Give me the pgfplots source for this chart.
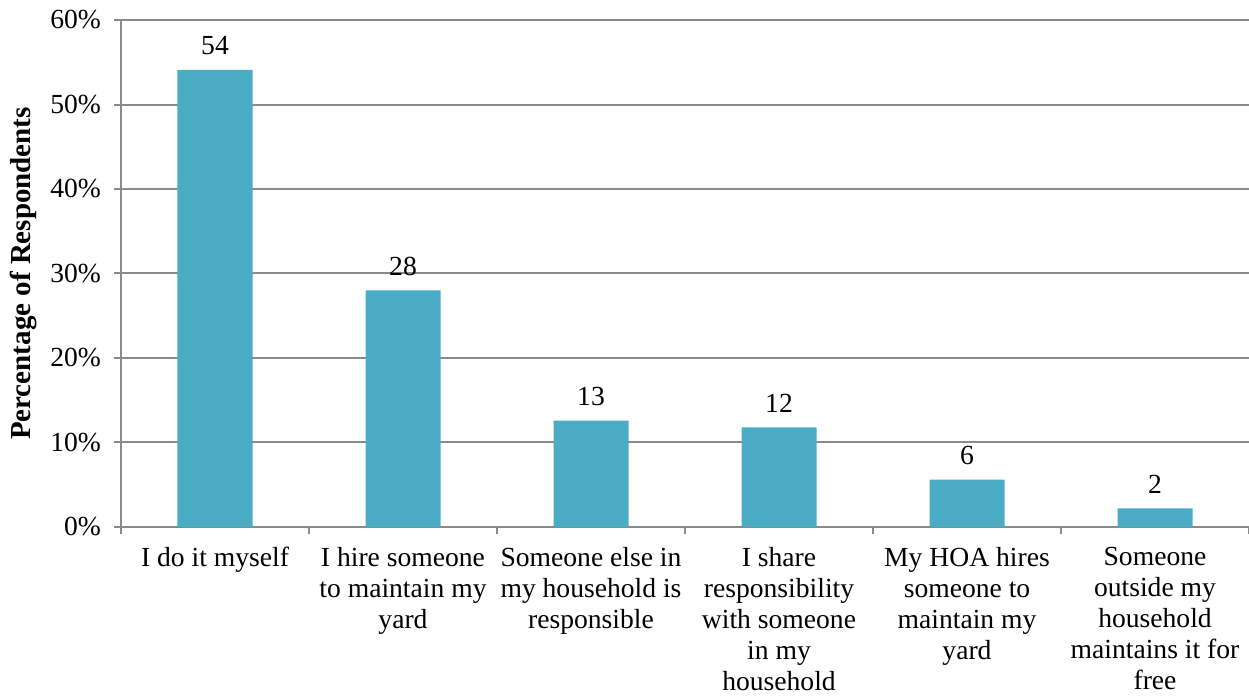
\documentclass[border=0pt]{standalone}
\usepackage{fontspec}
\setmainfont{Liberation Serif}
\usepackage{pgfplots}
\pgfplotsset{compat=1.18}
\definecolor{barblue}{HTML}{4BACC6}
\definecolor{axisgray}{HTML}{8A8A8A}

\pgfplotstableread{
x  pct
0  54.1
1  28.0
2  12.6
3  11.8
4  5.6
5  2.2
}\yardtable

\begin{document}
\begin{tikzpicture}
\begin{axis}[
  scale only axis,
  width=564pt, height=253.5pt,
  xmin=-0.5, xmax=5.5,
  ymin=0, ymax=60,
  /pgf/number format/assume math mode=true,
  axis x line=bottom, axis y line=left,
  axis line style={draw=axisgray, line width=1pt, -},
  ytick={0,10,...,60},
  yticklabel={\pgfmathprintnumber{\tick}\%},
  ymajorgrids,
  grid style={draw=axisgray, line width=1pt},
  xtick={0,...,5},
  xticklabels={
    {I do it myself},
    {I hire someone\\to maintain my\\yard},
    {Someone else in\\my household is\\responsible},
    {I share\\responsibility\\with someone\\in my\\household},
    {My HOA hires\\someone to\\maintain my\\yard},
    {Someone\\outside my\\household\\maintains it for\\free}},
  minor xtick={-0.5,0.5,...,5.5},
  major x tick style={draw=none},
  minor x tick style={draw=axisgray, line width=1pt},
  y tick style={draw=axisgray, line width=1pt},
  tick align=outside,
  major tick length=3.5pt, minor tick length=3.5pt,
  tick label style={font=\fontsize{13.8}{15.5}\selectfont},
  xticklabel style={align=center, anchor=north, yshift=-3pt},
  yticklabel style={xshift=-3pt},
  ylabel={\textbf{Percentage of Respondents}},
  ylabel style={font=\fontsize{14.5}{16}\selectfont},
  ybar, bar width=37.5pt,
  nodes near coords,
  point meta=y,
  nodes near coords style={font=\fontsize{13.8}{15.5}\selectfont,
    anchor=base, inner sep=0pt, yshift=7.5pt,
    /pgf/number format/fixed, /pgf/number format/precision=0,
    /pgf/number format/assume math mode=true},
  clip=false,
]
\addplot[fill=barblue, draw=none] table[x=x, y=pct] {\yardtable};
\end{axis}
\pgfresetboundingbox
\useasboundingbox ([shift={(-60.5pt,-85.5pt)}]current axis.south west)
  rectangle ([shift={(0pt,10pt)}]current axis.north east);
\end{tikzpicture}
\end{document}
